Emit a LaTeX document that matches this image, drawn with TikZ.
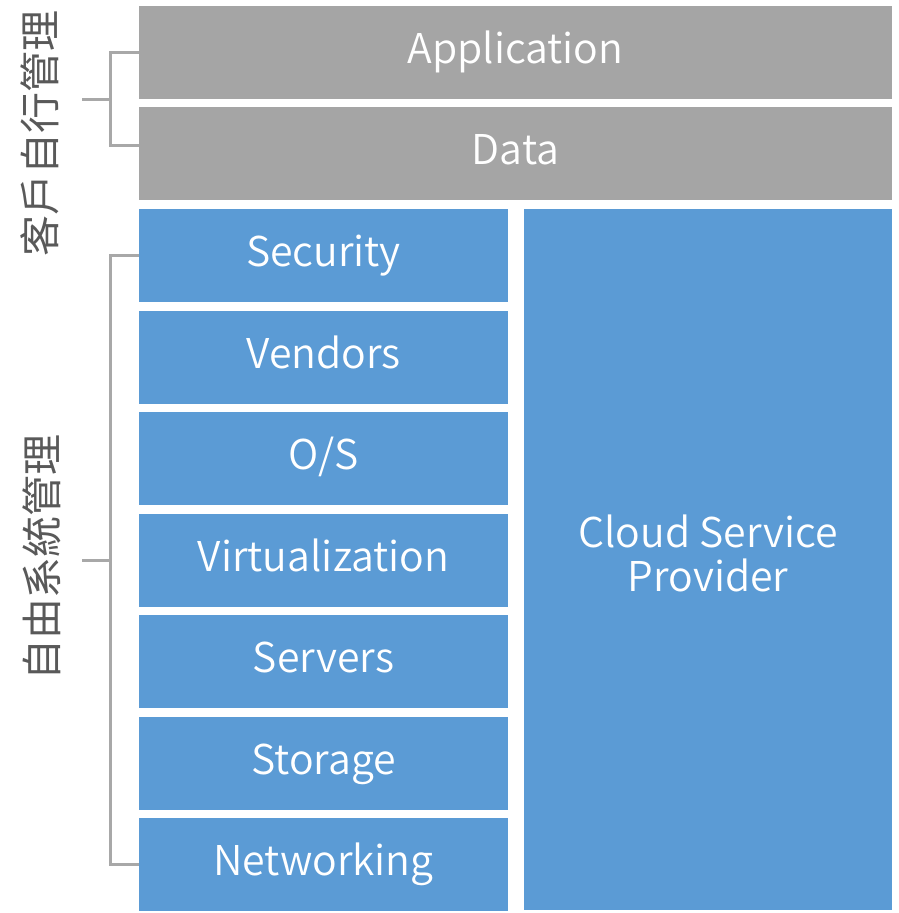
\documentclass[tikz,border=0pt]{standalone}
\usepackage{fontspec}
\IfFontExistsTF{Noto Sans CJK TC DemiLight}
  {\setmainfont{Noto Sans CJK TC DemiLight}}
  {\IfFontExistsTF{Noto Sans CJK TC Light}
    {\setmainfont{Noto Sans CJK TC Light}}
    {\setmainfont{Noto Sans CJK TC}}}
\newfontfamily\cjklab{Noto Sans CJK TC}
\definecolor{boxgray}{HTML}{A5A5A5}
\definecolor{boxblue}{HTML}{5B9BD5}
\definecolor{brgray}{HTML}{A8A8A8}
\definecolor{labgray}{HTML}{595959}
\begin{document}
\begin{tikzpicture}[x=1pt,y=-1pt,
  layer/.style={draw=none,inner sep=0pt,text=white,font=\fontsize{41}{44}\selectfont,align=center,text height=22pt,text depth=0pt},
  graybox/.style={layer,fill=boxgray},
  bluebox/.style={layer,fill=boxblue},
  plaintext/.style={inner sep=0pt,text=white,font=\fontsize{41}{44}\selectfont,align=center},
  bracket/.style={draw=brgray,line width=3pt},
  sidelabel/.style={text=labgray,font=\cjklab\fontsize{41}{44}\selectfont,rotate=90,inner sep=0pt}]
\useasboundingbox (0,0) rectangle (899,913);
% gray rows
\node[graybox,minimum width=753pt,minimum height=93pt] (app) at (515.5,52.5) {Application};
\node[graybox,minimum width=753pt,minimum height=93pt] (data) at (515.5,153.5) {Data};
% blue rows
\foreach \t [count=\i from 0] in {Security,Vendors,O/S,Virtualization,Servers,Storage,Networking}{
  \node[bluebox,minimum width=369pt,minimum height=93pt] (b\i) at (323.5,{255.5+\i*101.5}) {\t};
}
\node[bluebox,minimum width=368pt,minimum height=701pt] (csp) at (708,559.5) {};
\node[plaintext] (csptext) at ([yshift=6pt]csp.center) {Cloud Service\\Provider};
% brackets
\coordinate (s1) at (82,99);
\coordinate (s2) at (82,560);
\draw[bracket] (app.west) -- ++(-28,0) |- ([yshift=8pt]data.west);
\draw[bracket] (s1) -- ++(29,0);
\draw[bracket] (b0.west) -- ++(-28,0) |- (b6.west);
\draw[bracket] (s2) -- ++(29,0);
% side labels
\node[sidelabel] (l1) at (40,133) {客戶自行管理};
\node[sidelabel] (l2) at (42,557.5) {自由系統管理};
\end{tikzpicture}
\end{document}
